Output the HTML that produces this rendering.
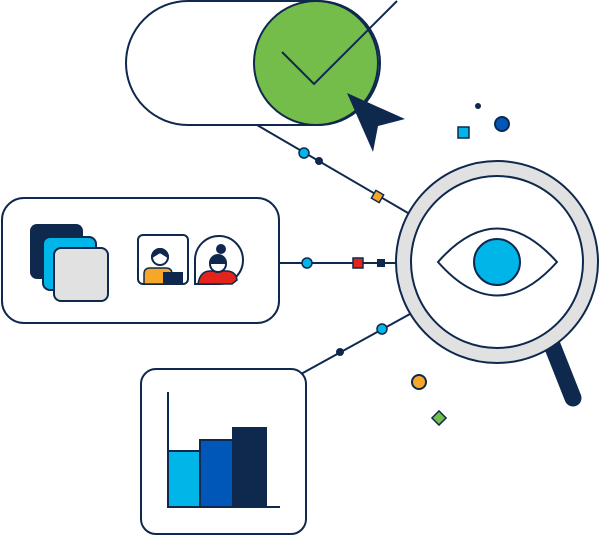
<!DOCTYPE html>
<html><head><style>html,body{margin:0;padding:0;background:#fff}svg{display:block}</style></head>
<body>
<svg width="601" height="536" viewBox="0 0 601 536" xmlns="http://www.w3.org/2000/svg" fill="none" stroke="#0f284d" stroke-width="2">
<!-- connectors -->
<line x1="257" y1="125" x2="408" y2="213"/>
<line x1="279" y1="263" x2="398" y2="263"/>
<line x1="301" y1="374" x2="410" y2="314"/>
<circle cx="304" cy="153" r="5" fill="#00b5e8" stroke-width="1.5"/>
<circle cx="319" cy="161" r="3" fill="#0f284d"/>
<rect x="373" y="192" width="9" height="9" fill="#f6a728" stroke-width="1.5" transform="rotate(30 377.5 196.5)"/>
<circle cx="307" cy="263" r="5" fill="#00b5e8" stroke-width="1.5"/>
<rect x="353" y="258" width="10" height="10" fill="#e2241c" stroke-width="1.5"/>
<rect x="378" y="260" width="6" height="6" fill="#0f284d"/>
<circle cx="340" cy="352" r="3" fill="#0f284d"/>
<circle cx="382" cy="329" r="5" fill="#00b5e8" stroke-width="1.5"/>
<!-- toggle -->
<rect x="126" y="1" width="254" height="124" rx="62" fill="#fff"/>
<circle cx="316" cy="63" r="62" fill="#74bd4a"/>
<polyline points="282,52 314,84 397,1"/>
<polygon points="347,93 405,119 378,126 373,152" fill="#0f284d" stroke="none"/>
<!-- decorations -->
<circle cx="478" cy="106" r="3" fill="#0f284d" stroke="none"/>
<circle cx="502" cy="124" r="7" fill="#0057b8"/>
<rect x="458" y="127" width="11" height="11" fill="#00b5e8" stroke-width="1.5"/>
<circle cx="419" cy="382" r="7" fill="#f6a728"/>
<rect x="434" y="413" width="10" height="10" fill="#74bd4a" stroke-width="1.5" transform="rotate(45 439 418)"/>
<!-- magnifier -->
<line x1="552" y1="345" x2="573" y2="398" stroke-width="17" stroke-linecap="round"/>
<circle cx="497" cy="262" r="101" fill="#e1e1e1"/>
<circle cx="497" cy="262" r="86" fill="#fff"/>
<path d="M438,262 Q497,195 557,262 Q497,329 438,262 Z" fill="#fff"/>
<circle cx="497" cy="262" r="23" fill="#00b5e8"/>
<!-- left box -->
<rect x="2" y="198" width="277" height="125" rx="22" fill="#fff"/>
<rect x="30" y="224" width="53" height="55" rx="7" fill="#0f284d" stroke="none"/>
<rect x="43" y="237" width="53" height="53" rx="7" fill="#00b5e8"/>
<rect x="54" y="248" width="54" height="53" rx="7" fill="#e1e1e1"/>
<rect x="138" y="235" width="50" height="49" rx="5" fill="#fff"/>
<path d="M144,284 L144,274 Q144,268 150,268 L166,268 Q172,268 172,274 L172,284Z" fill="#f6a728" stroke-width="1.5"/>
<circle cx="160" cy="257" r="8" fill="#fff"/>
<path d="M152,257 A8,8 0 0 1 168,257 L160,252 Z" fill="#0f284d"/>
<rect x="163" y="272" width="20" height="12" fill="#0f284d" stroke="none"/>
<path d="M195,284 L195,259 A24,24 0 1 1 219,284 Z" fill="#fff"/>
<path d="M198,284 Q200,271 210,271 L226,271 Q236,271 237,280 L232,284Z" fill="#e2241c" stroke-width="1.5"/>
<circle cx="218" cy="264" r="8" fill="#fff"/>
<path d="M210,263 A8,8 0 0 1 226,263 Z" fill="#0f284d"/>
<circle cx="221" cy="249" r="5" fill="#0f284d" stroke="none"/>
<!-- chart box -->
<rect x="141" y="369" width="165" height="165" rx="15" fill="#fff"/>
<rect x="168" y="451" width="32" height="56" fill="#00b5e8"/>
<rect x="200" y="440" width="33" height="67" fill="#0057b8"/>
<rect x="233" y="428" width="33" height="79" fill="#0f284d"/>
<polyline points="168,392 168,507 280,507"/>
</svg>
</body></html>
